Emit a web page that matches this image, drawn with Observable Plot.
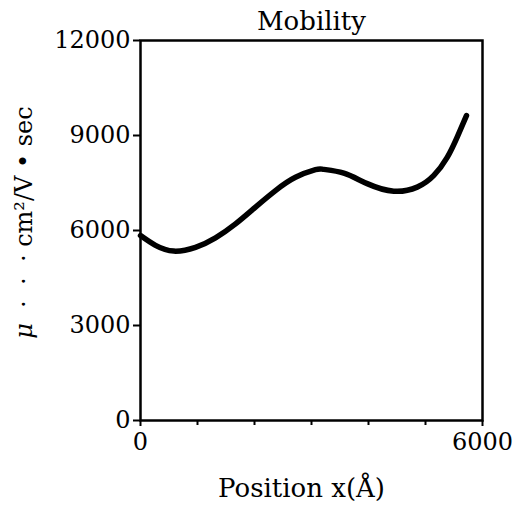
<!DOCTYPE html>
<html>
<head>
<meta charset="utf-8">
<script src="https://cdn.jsdelivr.net/npm/d3@7"></script>
<script src="https://cdn.jsdelivr.net/npm/@observablehq/plot@0.6"></script>
<style>
  html, body { margin: 0; padding: 0; background: #fff; }
</style>
</head>
<body>
<div id="chart"></div>
<script>
const positions = [0, 263, 584, 965, 1316, 1667, 2018, 2368, 2719, 3070, 3216, 3567, 3977, 4444, 4854, 5146, 5381, 5556, 5719];
const mobility = [5840, 5530, 5350, 5470, 5770, 6210, 6740, 7260, 7680, 7920, 7930, 7810, 7480, 7240, 7370, 7740, 8310, 8950, 9630];
const yTicks = [0, 3000, 6000, 9000, 12000];
const xMajor = [0, 6000];
const xMinor = [1000, 2000, 3000, 4000, 5000];
const titleText = "Mobility";
const xLabel = "Position x(Å)";
const yLabel = "μ  ·  ·  · cm²/V • sec";

const data = positions.map((x, i) => ({x, y: mobility[i]}));

const chart = Plot.plot({
  width: 515,
  height: 512,
  marginLeft: 140,
  marginRight: 33,
  marginTop: 40,
  marginBottom: 92,
  style: {fontFamily: "DejaVu Serif", color: "#000", background: "#fff"},
  x: {domain: [0, 6000]},
  y: {domain: [0, 12000]},
  marks: [
    Plot.frame({stroke: "#000", strokeWidth: 2.5}),
    Plot.axisY({ticks: yTicks, tickFormat: "d", tickSize: 7, tickPadding: 3, fontSize: 24, label: null, strokeWidth: 2}),
    Plot.axisX({ticks: xMajor, tickFormat: "d", tickSize: 6, tickPadding: 6, fontSize: 24, label: null, strokeWidth: 2}),
    Plot.axisX({ticks: xMinor, tickFormat: () => "", tickSize: 5, label: null, strokeWidth: 2}),
    Plot.line(data, {x: "x", y: "y", curve: "natural", stroke: "#000", strokeWidth: 5.5, strokeLinecap: "round"}),
    Plot.text([titleText], {frameAnchor: "top", dy: -11, lineAnchor: "bottom", fontSize: 26}),
    Plot.text([xLabel], {frameAnchor: "bottom", dy: 58, dx: -10, lineAnchor: "top", fontSize: 26}),
    Plot.text([yLabel], {frameAnchor: "left", dx: -116, dy: -8, rotate: -90, textAnchor: "middle", lineAnchor: "middle", fontSize: 24, className: "ylab"})
  ]
});
document.getElementById("chart").appendChild(chart);

// italic mu in the y label
const yt = d3.select(chart).select(".ylab text");
if (!yt.empty()) {
  const s = yt.text();
  yt.text(null);
  yt.append("tspan").attr("font-style", "italic").text(s.slice(0, 1));
  yt.append("tspan").text(s.slice(1));
}
</script>
</body>
</html>
